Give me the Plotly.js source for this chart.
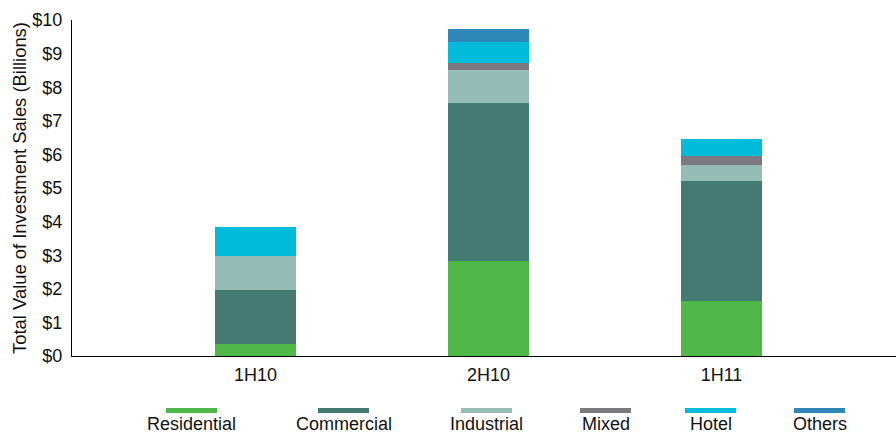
<!DOCTYPE html>
<html>
<head>
<meta charset="utf-8">
<script src="https://cdn.plot.ly/plotly-3.0.1.min.js"></script>
<style>
  html, body { margin: 0; padding: 0; background: #fff; }
  #chart { width: 896px; height: 434px; }
</style>
</head>
<body>
<div id="chart"></div>
<script>
// Half-year periods
const periods = ['1H10', '2H10', '1H11'];

// Investment sales by sector, $ billions
const residential = [0.36, 2.83, 1.64];
const commercial  = [1.61, 4.71, 3.58];
const industrial  = [1.02, 0.98, 0.47];
const mixed       = [0.00, 0.21, 0.27];
const hotel       = [0.85, 0.63, 0.51];
const others      = [0.00, 0.36, 0.00];

const sectorNames  = ['Residential', 'Commercial', 'Industrial', 'Mixed', 'Hotel', 'Others'];
const sectorValues = [residential, commercial, industrial, mixed, hotel, others];
const sectorColors = ['#50b848', '#437b72', '#95bdb6', '#7a797e', '#00bbd9', '#2e86b9'];

// Legend layout: swatch centre positions in page pixels
const legendCentersPx = [191.5, 343.5, 486.5, 605.5, 710.5, 819.5];

const fontFamily = '"Liberation Sans", Arial, sans-serif';

const traces = sectorNames.map((name, i) => ({
  type: 'bar',
  name: name,
  x: periods,
  y: sectorValues[i],
  width: 0.348,
  marker: { color: sectorColors[i], line: { width: 0 } },
  hoverinfo: 'x+y+name'
}));

// Plot area geometry in pixels
const plotLeft = 72, plotWidth = 824, plotTop = 20, plotBottom = 356;
const plotHeight = plotBottom - plotTop;
const toPaperX = px => (px - plotLeft) / plotWidth;
const toPaperY = py => (plotBottom - py) / plotHeight;

const shapes = sectorNames.map((name, i) => ({
  type: 'rect',
  xref: 'paper', yref: 'paper',
  x0: toPaperX(legendCentersPx[i] - 25.5),
  x1: toPaperX(legendCentersPx[i] + 25.5),
  y0: toPaperY(408), y1: toPaperY(413),
  fillcolor: sectorColors[i],
  line: { width: 0 }
}));

const annotations = sectorNames.map((name, i) => ({
  xref: 'paper', yref: 'paper',
  x: toPaperX(legendCentersPx[i]),
  y: toPaperY(423.5),
  xanchor: 'center', yanchor: 'middle',
  borderpad: 0,
  text: name,
  showarrow: false,
  font: { family: fontFamily, size: 18, color: '#111' }
}));

const layout = {
  width: 896,
  height: 434,
  margin: { l: plotLeft, r: 896 - plotLeft - plotWidth, t: plotTop, b: 434 - plotBottom, pad: 0 },
  paper_bgcolor: '#ffffff',
  plot_bgcolor: '#ffffff',
  barmode: 'stack',
  showlegend: false,
  font: { family: fontFamily, size: 18, color: '#111' },
  xaxis: {
    type: 'category',
    range: [-0.788, 2.749],
    showline: true,
    linecolor: '#000',
    linewidth: 1,
    showgrid: false,
    zeroline: false,
    ticks: '',
    ticklabelstandoff: 2,
    tickfont: { family: fontFamily, size: 18, color: '#111' }
  },
  yaxis: {
    range: [0, 10],
    dtick: 1,
    tickprefix: '$',
    showline: true,
    linecolor: '#000',
    linewidth: 1,
    showgrid: false,
    zeroline: false,
    ticks: '',
    ticklabelstandoff: 5,
    tickfont: { family: fontFamily, size: 18, color: '#111' },
    title: {
      text: 'Total Value of Investment Sales (Billions)',
      font: { family: fontFamily, size: 18.4, color: '#111' },
      standoff: 0
    }
  },
  shapes: shapes,
  annotations: annotations
};

Plotly.newPlot('chart', traces, layout, { displayModeBar: false, staticPlot: true });
</script>
</body>
</html>
